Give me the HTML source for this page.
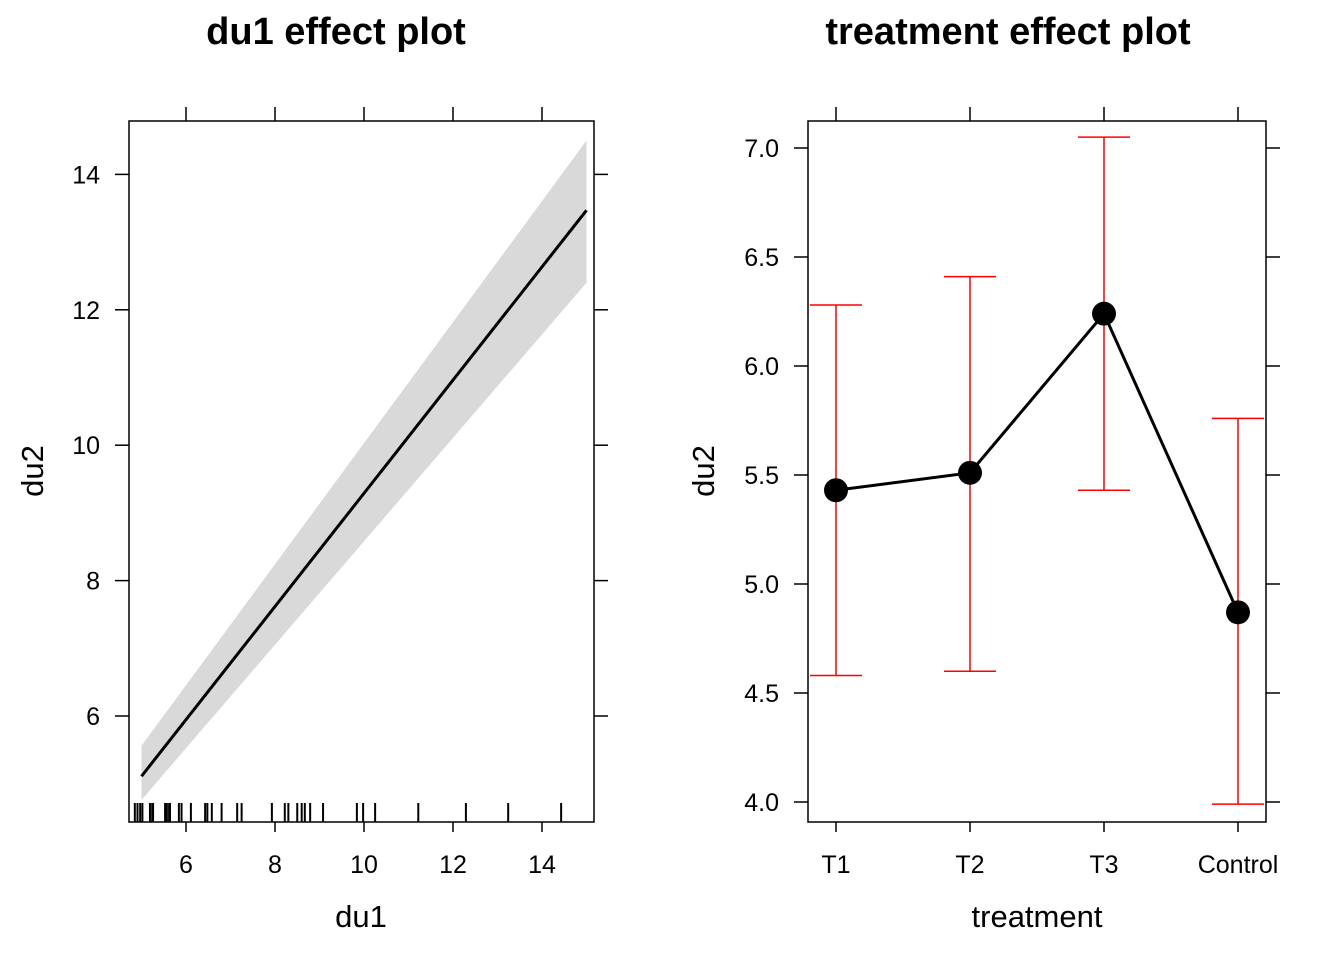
<!DOCTYPE html>
<html><head><meta charset="utf-8"><style>body{margin:0;background:#fff}svg{display:block;font-family:"Liberation Sans",Arial,sans-serif}</style></head>
<body>
<svg id="c" width="1344" height="960" xmlns="http://www.w3.org/2000/svg"></svg>
<script>
// Left panel data
const du1Line=[5,15];
const du2Fit=[5.11,13.47];
const du2Upper=[5.56,14.5];
const du2Lower=[4.76,12.4];
const du1Ticks=[6,8,10,12,14];
const du2Ticks=[6,8,10,12,14];
const rugValues=[4.85,4.91,4.97,5.02,5.19,5.24,5.26,5.53,5.57,5.62,5.64,5.84,5.90,6.11,6.43,6.48,6.58,6.80,7.15,7.25,7.93,8.22,8.30,8.50,8.60,8.67,8.79,9.08,9.84,9.98,10.25,11.22,12.29,13.24,14.43];
// Right panel data
const treatments=["T1","T2","T3","Control"];
const effects=[5.43,5.51,6.24,4.87];
const upperCI=[6.28,6.41,7.05,5.76];
const lowerCI=[4.58,4.60,5.43,3.99];
const rTicks=[4.0,4.5,5.0,5.5,6.0,6.5,7.0];

const svg=document.getElementById('c');
const NS='http://www.w3.org/2000/svg';
function el(t,a,p){const e=document.createElementNS(NS,t);for(const k in a)e.setAttribute(k,a[k]);(p||svg).appendChild(e);return e;}
function txt(s,a){const e=el('text',a);e.textContent=s;return e;}

const lx=v=>186+(v-6)*44.5;
const ly=v=>716-(v-6)*67.7;
let band=el('polygon',{points:`${lx(du1Line[0])},${ly(du2Upper[0])} ${lx(du1Line[1])},${ly(du2Upper[1])} ${lx(du1Line[1])},${ly(du2Lower[1])} ${lx(du1Line[0])},${ly(du2Lower[0])}`,fill:'#d9d9d9'});


let fl=el('line',{x1:lx(du1Line[0]),y1:ly(du2Fit[0]),x2:lx(du1Line[1]),y2:ly(du2Fit[1]),stroke:'#000','stroke-width':3});


rugValues.forEach(v=>{const r=el('line',{x1:lx(v),x2:lx(v),y1:803,y2:822,stroke:'#000','stroke-width':2});

});
let lb=el('rect',{x:129,y:121,width:465,height:701,fill:'none',stroke:'#000','stroke-width':1.5});


du1Ticks.forEach(v=>{el('line',{x1:lx(v),x2:lx(v),y1:822,y2:832,stroke:'#000','stroke-width':1.5});el('line',{x1:lx(v),x2:lx(v),y1:107,y2:121,stroke:'#000','stroke-width':1.5});
const t=txt(v,{x:lx(v),y:873,'font-size':25,'text-anchor':'middle'});

});
du2Ticks.forEach(v=>{el('line',{x1:115,x2:129,y1:ly(v),y2:ly(v),stroke:'#000','stroke-width':1.5});el('line',{x1:594,x2:608,y1:ly(v),y2:ly(v),stroke:'#000','stroke-width':1.5});
const t=txt(v,{x:100,y:ly(v)+9,'font-size':25,'text-anchor':'end'});

});
let t1=txt('du1 effect plot',{x:336,y:44,'font-size':38,'font-weight':'bold','text-anchor':'middle'});

let xa=txt('du1',{x:361,y:927,'font-size':31,'text-anchor':'middle'});

let ya=txt('du2',{x:0,y:0,'font-size':31,'text-anchor':'middle',transform:'translate(43,471) rotate(-90)'});


const rx=i=>836+i*134;
const ry=v=>802-(v-4)*218;
treatments.forEach((c,i)=>{
 const g=el('g',{});
 
 
 el('line',{x1:rx(i),x2:rx(i),y1:ry(upperCI[i]),y2:ry(lowerCI[i]),stroke:'#f00','stroke-width':1.5},g);
 el('line',{x1:rx(i)-26,x2:rx(i)+26,y1:ry(upperCI[i]),y2:ry(upperCI[i]),stroke:'#f00','stroke-width':1.5},g);
 el('line',{x1:rx(i)-26,x2:rx(i)+26,y1:ry(lowerCI[i]),y2:ry(lowerCI[i]),stroke:'#f00','stroke-width':1.5},g);
});
let pl=el('polyline',{points:effects.map((v,i)=>rx(i)+','+ry(v)).join(' '),fill:'none',stroke:'#000','stroke-width':3});

effects.forEach((v,i)=>{const c=el('circle',{cx:rx(i),cy:ry(v),r:12,fill:'#000'});

});
let rb=el('rect',{x:808,y:121,width:458,height:701,fill:'none',stroke:'#000','stroke-width':1.5});

treatments.forEach((c,i)=>{el('line',{x1:rx(i),x2:rx(i),y1:822,y2:832,stroke:'#000','stroke-width':1.5});el('line',{x1:rx(i),x2:rx(i),y1:107,y2:121,stroke:'#000','stroke-width':1.5});
const t=txt(c,{x:rx(i),y:873,'font-size':25,'text-anchor':'middle'});

});
rTicks.forEach(v=>{el('line',{x1:794,x2:808,y1:ry(v),y2:ry(v),stroke:'#000','stroke-width':1.5});el('line',{x1:1266,x2:1280,y1:ry(v),y2:ry(v),stroke:'#000','stroke-width':1.5});
const t=txt(v.toFixed(1),{x:779,y:ry(v)+9,'font-size':25,'text-anchor':'end'});

});
let t2=txt('treatment effect plot',{x:1008,y:44,'font-size':38,'font-weight':'bold','text-anchor':'middle'});

let xb=txt('treatment',{x:1037,y:927,'font-size':31,'text-anchor':'middle'});

let yb=txt('du2',{x:0,y:0,'font-size':31,'text-anchor':'middle',transform:'translate(714,471) rotate(-90)'});

</script>
</body></html>
